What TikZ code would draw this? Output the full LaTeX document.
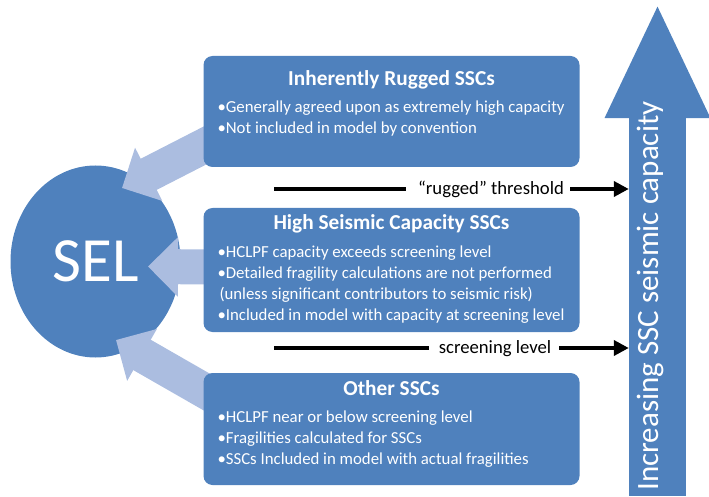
\documentclass[tikz,border=0pt]{standalone}
\usepackage{fontspec}
\setmainfont{Carlito}
\usetikzlibrary{shapes.geometric,arrows.meta,positioning}
\definecolor{selblue}{HTML}{4F81BD}
\definecolor{sellight}{HTML}{ABBDE0}
\pgfdeclarelayer{back}
\pgfdeclarelayer{mid}
\pgfsetlayers{back,mid,main}
\tikzset{
  ssc/.style={fill=selblue,rounded corners=9pt,minimum width=376pt,inner sep=0pt},
  ssctitle/.style={text=white,font=\fontsize{21.3}{25}\selectfont\bfseries,inner sep=0pt,anchor=base},
  sscitems/.style={text=white,font=\fontsize{16.8}{21}\selectfont,align=left,inner sep=0pt},
  feed/.style={sellight,line width=35pt,-{Triangle[length=30pt,width=58pt]}},
  level/.style={line width=4pt},
  levellabel/.style={font=\fontsize{18.7}{22}\selectfont,inner sep=0pt,anchor=base},
}

\begin{document}
\begin{tikzpicture}[x=1pt,y=1pt]
\useasboundingbox (0,0) rectangle (709,496);

\begin{pgfonlayer}{back}
\node[ellipse,fill=selblue,minimum width=170pt,minimum height=192pt,inner sep=0pt,
  text=white,font=\fontsize{63}{70}\selectfont] (sel) at (95.5,234.5) {SEL};
\end{pgfonlayer}

\node[ssc,minimum height=111pt] (box1) at (391.5,384.5) {};
\node[ssc,minimum height=124pt] (box2) at (391.5,226) {};
\node[ssc,minimum height=112pt] (box3) at (391.5,67) {};

\node[ssctitle] (title1) at ([yshift=-30pt]box1.north) {Inherently Rugged SSCs};
\node[sscitems,below right=45pt and 14pt of box1.north west] (items1)
  {•Generally agreed upon as extremely high capacity\\
   •Not included in model by convention};

\node[ssctitle] (title2) at ([yshift=-22pt]box2.north) {High Seismic Capacity SSCs};
\node[sscitems,below right=38pt and 14pt of box2.north west] (items2)
  {•HCLPF capacity exceeds screening level\\
   •Detailed fragility calculations are not performed\\
   \hspace*{2pt}(unless significant contributors to seismic risk)\\
   •Included in model with capacity at screening level};

\node[ssctitle] (title3) at ([yshift=-23pt]box3.north) {Other SSCs};
\node[sscitems,below right=38pt and 14pt of box3.north west] (items3)
  {•HCLPF near or below screening level\\
   •Fragilities calculated for SSCs\\
   •SSCs Included in model with actual fragilities};

\begin{pgfonlayer}{mid}
\draw[feed] ([shift={(10pt,26pt)}]box1.south west) -- ([shift={(26.5pt,73.5pt)}]sel.center);
\draw[feed] ([shift={(10pt,3pt)}]box2.west) -- ([shift={(52.5pt,-5pt)}]sel.center);
\draw[feed] ([shift={(10pt,-23pt)}]box3.north west) -- ([shift={(20.5pt,-78.5pt)}]sel.center);
\end{pgfonlayer}

\node[fill=selblue,minimum width=57pt,minimum height=378pt,inner sep=0pt,anchor=south] (shaft) at (657.5,0) {};
\fill[selblue] ([shift={(-53pt,-0.5pt)}]shaft.north) -- ([yshift=111pt]shaft.north) -- ([shift={(53pt,-0.5pt)}]shaft.north) -- cycle;
\node[rotate=90,text=white,font=\fontsize{31}{36}\selectfont] (capacity) at (650,200) {Increasing SSC seismic capacity};

\coordinate (rug0) at (274,307);
\node[levellabel] (rugged) at (491,301) {“rugged” threshold};
\draw[level] (rug0) -- ([xshift=-12pt]rug0 -| rugged.west);
\draw[level,-{Triangle[length=15pt,width=15pt]}] ([xshift=6pt]rug0 -| rugged.east) -- (rug0 -| shaft.west);

\coordinate (scr0) at (274,148);
\node[levellabel] (screen) at (495,143) {screening level};
\draw[level] (scr0) -- ([xshift=-10pt]scr0 -| screen.west);
\draw[level,-{Triangle[length=15pt,width=15pt]}] ([xshift=8pt]scr0 -| screen.east) -- (scr0 -| shaft.west);
\end{tikzpicture}
\end{document}
